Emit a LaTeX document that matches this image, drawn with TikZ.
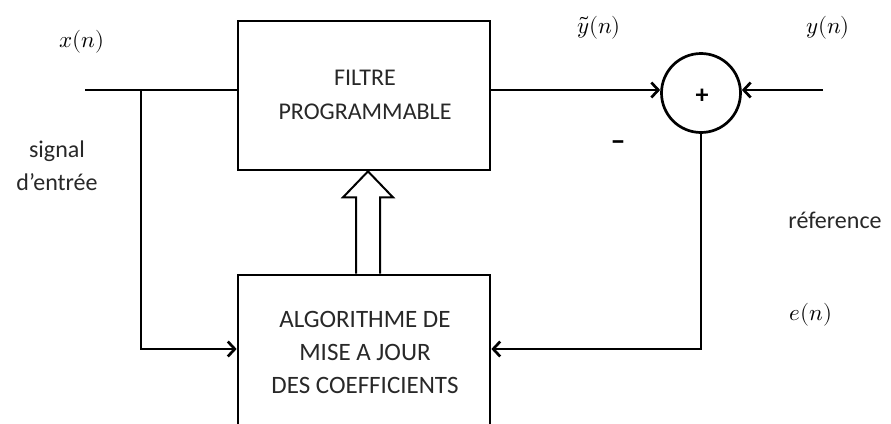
\documentclass[tikz,border=0pt]{standalone}
\usepackage{fontspec}
\usepackage{unicode-math}
\setmainfont{Carlito}
\setmathfont{Latin Modern Math}
\usetikzlibrary{arrows.meta,calc}
\definecolor{txt}{RGB}{40,40,40}
\tikzset{
  blk/.style={draw=black, line width=2.7pt, rectangle, inner sep=0pt},
  wire/.style={draw=black, line width=2.7pt},
  arr/.style={wire, -{Straight Barb[length=7pt,width=15pt,line width=2.7pt]}},
  lbl/.style={text=txt, font=\fontsize{24}{33.5}\selectfont, align=center, inner sep=0pt},
  mlbl/.style={text=black, font=\fontsize{23}{26}\selectfont, inner sep=0pt},
}
\begin{document}
\begin{tikzpicture}[x=1pt,y=-1pt]
\useasboundingbox (0,0) rectangle (891,423);
\clip (0,0) rectangle (891,423);
\fill[white] (0,0) rectangle (891,423);

% blocks
\node[blk, minimum width=252pt, minimum height=149pt] (filt) at (364,95.5) {};
\node[lbl] (filttxt) at (365,95) {FILTRE\\PROGRAMMABLE};
\node[blk, overlay, minimum width=252pt, minimum height=180pt] (algo) at (364,365) {};
\node[lbl, font=\fontsize{25}{33}\selectfont] (algotxt) at (365,352) {ALGORITHME DE\\MISE A JOUR\\DES COEFFICIENTS};
\node[draw=black, line width=2.7pt, circle, minimum size=79pt, inner sep=0pt] (sum) at (701,93) {};
\node[text=black, font=\fontsize{26}{26}\selectfont\bfseries, inner sep=0pt] (plus) at (702,96) {+};

% coordinates
\coordinate (in) at (85,90);
\coordinate (br) at (141,90);
\coordinate (fb) at (141,349);
\coordinate (yin) at (823,90);

% connectors
\draw[wire] (in) -- (in -| filt.west);
\draw[arr] (br) |- (algo.west |- fb);
\draw[arr] (filt.east |- in) -- (in -| sum.west);
\draw[arr] (yin) -- (yin -| sum.east);
\draw[arr] (sum.south) |- (algo.east |- fb);

% hollow arrow
\draw[black, line width=2pt, fill=white, line join=miter]
  ($(algo.north)+(-8,0)$) -- ($(filt.south)+(-8,26)$) -- ($(filt.south)+(-21,26)$)
  -- ($(filt.south)+(4,0)$) -- ($(filt.south)+(29,26)$) -- ($(filt.south)+(16,26)$)
  -- ($(algo.north)+(16,0)$);

% labels
\node[mlbl] (xn) at (82,42) {$x(n)$};
\node[mlbl] (ytn) at (599,28) {$\tilde{y}(n)$};
\node[mlbl] (yn) at (828,28) {$y(n)$};
\node[mlbl] (en) at (811,315) {$e(n)$};
\node[lbl] (sig) at (57,166) {signal\\d’entrée};
\node[lbl] (ref) at (835,220) {réference};
\node[text=black, font=\fontsize{30}{30}\selectfont\bfseries, inner sep=0pt] (minus) at (618,146) {–};
\end{tikzpicture}
\end{document}
